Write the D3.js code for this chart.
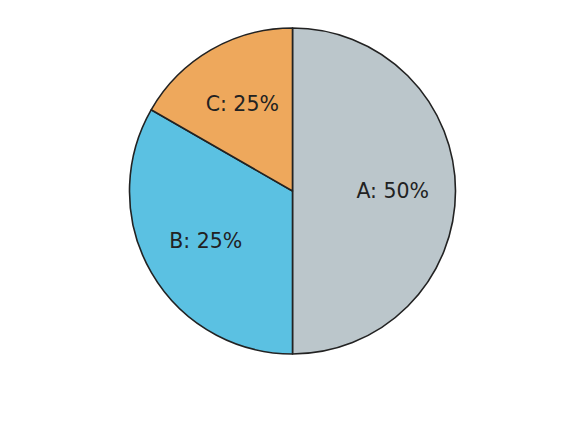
<!DOCTYPE html>
<html><head><meta charset="utf-8">
<script src="https://cdn.jsdelivr.net/npm/d3@7"></script>
<style>body{margin:0;background:#fff}svg{display:block}</style>
</head><body>
<svg id="c" width="585" height="439"></svg>
<script>
const categories = ["A", "B", "C"];
const values = [50, 33.3, 16.7];
const labelTexts = ["A: 50%", "B: 25%", "C: 25%"];
const colors = ["#bbc6cb", "#5bc1e2", "#eea85c"];

const svg = d3.select("#c");
const cx = 292.5, cy = 191, r = 163;
const g = svg.append("g").attr("transform", `translate(${cx},${cy})`);
const pie = d3.pie().sort(null).value(d => d.v);
const data = pie(categories.map((c, i) => ({c, v: values[i], t: labelTexts[i], col: colors[i]})));
const arc = d3.arc().innerRadius(0).outerRadius(r);
g.selectAll("path").data(data).join("path")
  .attr("d", arc).attr("fill", d => d.data.col)
  .attr("stroke", "#222").attr("stroke-width", 1.6).attr("stroke-linejoin", "round");
const la = d3.arc().innerRadius(r * 0.615).outerRadius(r * 0.615);
g.selectAll("text").data(data).join("text")
  .attr("transform", d => `translate(${la.centroid(d)})`)
  .attr("text-anchor", "middle").attr("dy", "0.35em")
  .attr("font-family", "DejaVu Sans").attr("font-size", 20.5).attr("fill", "#222")
  .text(d => d.data.t);
</script>
</body></html>
